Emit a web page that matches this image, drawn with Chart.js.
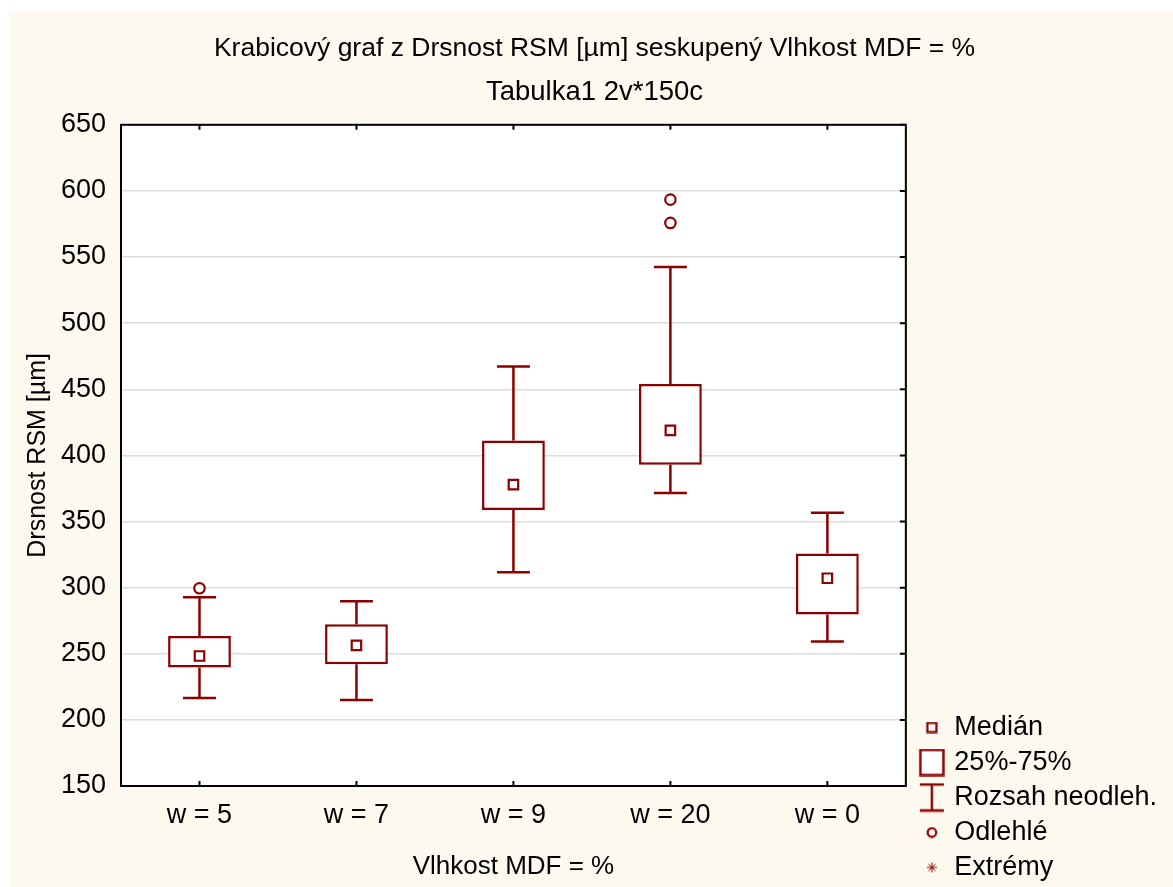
<!DOCTYPE html>
<html>
<head>
<meta charset="utf-8">
<script src="https://cdn.jsdelivr.net/npm/chart.js@4/dist/chart.umd.min.js"></script>
<style>
  html, body { margin: 0; padding: 0; background: #ffffff; }
  #wrap { position: absolute; left: 9px; top: 11px; width: 1164px; height: 876px; background: #fdf9ef; }
  canvas { display: block; }
</style>
</head>
<body>
<div id="wrap"><canvas id="boxChart" width="1164" height="876"></canvas></div>
<script>
// data
const categories = ["w = 5", "w = 7", "w = 9", "w = 20", "w = 0"];
const q1 = [239.6, 242.1, 358.7, 393.0, 279.7];
const q3 = [263.5, 272.4, 411.3, 453.9, 325.8];
const medians = [248.3, 256.3, 377.9, 418.9, 307.1];
const whiskerLow = [216.5, 215.0, 311.6, 371.5, 259.3];
const whiskerHigh = [292.7, 289.7, 467.2, 542.5, 356.7];
const outlierCats = ["w = 5", "w = 20", "w = 20"];
const outlierValues = [299.5, 593.4, 575.8];
const yTicks = [150, 200, 250, 300, 350, 400, 450, 500, 550, 600, 650];
const legendLabels = ["Medián", "25%-75%", "Rozsah neodleh.", "Odlehlé", "Extrémy"];

const RED = "#8b0000";
const FONT = "'Liberation Sans', Arial, sans-serif";

Chart.defaults.font.family = FONT;
Chart.defaults.font.size = 27;
Chart.defaults.color = "#000000";

// small canvases used as legend symbols (drawn a bit right of centre)
const SHIFT = 9;
const makeMarker = (w, h, draw) => {
  const c = document.createElement("canvas");
  c.width = w + SHIFT;
  c.height = h;
  const g = c.getContext("2d");
  g.translate(SHIFT, 0);
  g.strokeStyle = RED;
  g.fillStyle = "#ffffff";
  draw(g);
  return c;
};

const markers = [
  makeMarker(12, 12, (g) => { g.lineWidth = 2.2; g.fillRect(1, 1, 10, 10); g.strokeRect(1.5, 1.5, 9, 9); }),
  makeMarker(26, 28, (g) => { g.lineWidth = 2.4; g.fillRect(1, 1, 24, 26); g.strokeRect(1.5, 1.5, 23, 25); }),
  makeMarker(26, 30, (g) => {
    g.lineWidth = 2.4;
    g.beginPath();
    g.moveTo(1, 2); g.lineTo(25, 2);
    g.moveTo(13, 2); g.lineTo(13, 28);
    g.moveTo(1, 28); g.lineTo(25, 28);
    g.stroke();
  }),
  makeMarker(12, 12, (g) => { g.lineWidth = 2.2; g.beginPath(); g.arc(6, 6, 4.3, 0, Math.PI * 2); g.fill(); g.stroke(); }),
  makeMarker(12, 12, (g) => {
    g.lineWidth = 1;
    g.beginPath();
    g.moveTo(6, 1); g.lineTo(6, 11);
    g.moveTo(1, 6); g.lineTo(11, 6);
    g.moveTo(2.5, 2.5); g.lineTo(9.5, 9.5);
    g.moveTo(9.5, 2.5); g.lineTo(2.5, 9.5);
    g.stroke();
  }),
];

// white plot area, whiskers and the frame with inward ticks
const boxPlotExtras = {
  id: "boxPlotExtras",
  beforeDraw(chart) {
    const { ctx, chartArea: a } = chart;
    ctx.save();
    ctx.fillStyle = "#ffffff";
    ctx.fillRect(a.left, a.top, a.right - a.left, a.bottom - a.top);
    ctx.restore();
  },
  beforeDatasetsDraw(chart) {
    const { ctx } = chart;
    const xs = chart.scales.x;
    const ys = chart.scales.y;
    const cw = xs.getPixelForValue(1) - xs.getPixelForValue(0);
    const half = cw * 0.105;
    ctx.save();
    ctx.strokeStyle = RED;
    ctx.lineWidth = 2.5;
    categories.forEach((c, i) => {
      const x = xs.getPixelForValue(i);
      const yHi = ys.getPixelForValue(whiskerHigh[i]);
      const yLo = ys.getPixelForValue(whiskerLow[i]);
      ctx.beginPath();
      ctx.moveTo(x, ys.getPixelForValue(q3[i]));
      ctx.lineTo(x, yHi);
      ctx.moveTo(x - half, yHi);
      ctx.lineTo(x + half, yHi);
      ctx.moveTo(x, ys.getPixelForValue(q1[i]));
      ctx.lineTo(x, yLo);
      ctx.moveTo(x - half, yLo);
      ctx.lineTo(x + half, yLo);
      ctx.stroke();
    });
    ctx.restore();
  },
  afterDatasetsDraw(chart) {
    const { ctx, chartArea: a } = chart;
    const xs = chart.scales.x;
    const ys = chart.scales.y;
    ctx.save();
    ctx.strokeStyle = "#000000";
    ctx.lineWidth = 2;
    ctx.strokeRect(a.left, a.top, a.right - a.left, a.bottom - a.top);
    ctx.beginPath();
    yTicks.forEach((v) => {
      const y = ys.getPixelForValue(v);
      ctx.moveTo(a.right, y);
      ctx.lineTo(a.right - 6, y);
    });
    categories.forEach((c, i) => {
      const x = xs.getPixelForValue(i);
      ctx.moveTo(x, a.bottom);
      ctx.lineTo(x, a.bottom - 5);
      ctx.moveTo(x, a.top);
      ctx.lineTo(x, a.top + 5);
    });
    ctx.stroke();
    ctx.restore();
  },
};

const data = {
  labels: categories,
  datasets: [
    {
      type: "line",
      label: "Medián",
      data: medians,
      showLine: false,
      pointStyle: "rect",
      pointRadius: 6.7,
      pointBackgroundColor: "#ffffff",
      pointBorderColor: RED,
      pointBorderWidth: 2.2,
      order: 0,
    },
    {
      type: "line",
      label: "Odlehlé",
      data: outlierCats.map((c, i) => ({ x: c, y: outlierValues[i] })),
      showLine: false,
      pointStyle: "circle",
      pointRadius: 5.2,
      pointBackgroundColor: "#ffffff",
      pointBorderColor: RED,
      pointBorderWidth: 2.2,
      order: 1,
    },
    {
      type: "bar",
      label: "25%-75%",
      data: categories.map((c, i) => [q1[i], q3[i]]),
      backgroundColor: "#ffffff",
      borderColor: RED,
      borderWidth: 2.5,
      borderSkipped: false,
      categoryPercentage: 1,
      barPercentage: 0.4,
      order: 2,
    },
  ],
};

const config = {
  type: "bar",
  data: data,
  plugins: [boxPlotExtras],
  options: {
    responsive: false,
    animation: false,
    layout: { padding: { left: 13, right: 6, top: 0, bottom: -2 } },
    scales: {
      x: {
        grid: { display: false, drawTicks: false },
        border: { display: false },
        ticks: { padding: 13, font: { size: 27 } },
        title: {
          display: true,
          text: "Vlhkost MDF = %",
          font: { size: 26 },
          padding: { top: 20, bottom: 7 },
        },
        afterFit: (scale) => {
          scale.height = 103;
        },
      },
      y: {
        min: 150,
        max: 650,
        grid: { color: "#dcdcdc", lineWidth: 1.5, drawTicks: false },
        border: { display: false },
        ticks: { stepSize: 50, padding: 15, font: { size: 27 } },
        title: {
          display: true,
          text: "Drsnost RSM [µm]",
          font: { size: 25 },
          padding: { top: 1, bottom: 0 },
        },
        afterFit: (scale) => {
          scale.width = 99;
        },
      },
    },
    plugins: {
      title: {
        display: true,
        text: "Krabicový graf z Drsnost RSM [µm] seskupený Vlhkost MDF = %",
        font: { size: 26.5, weight: "normal" },
        padding: { top: 22, bottom: 11 },
      },
      subtitle: {
        display: true,
        text: "Tabulka1 2v*150c",
        font: { size: 27.5 },
        color: "#000000",
        padding: { top: 0, bottom: 16 },
      },
      legend: {
        position: "right",
        align: "end",
        labels: {
          usePointStyle: true,
          boxWidth: 27,
          boxHeight: 27,
          padding: 8,
          font: { size: 27 },
          generateLabels: () =>
            legendLabels.map((t, i) => ({
              text: t,
              pointStyle: markers[i],
              fillStyle: "#ffffff",
              strokeStyle: RED,
              lineWidth: 0,
              hidden: false,
              fontColor: "#000000",
              datasetIndex: 0,
            })),
        },
        onClick: () => {},
      },
      tooltip: { enabled: false },
    },
  },
};

const ctx = document.getElementById("boxChart").getContext("2d");
const boxChart = new Chart(ctx, config);
</script>
</body>
</html>
